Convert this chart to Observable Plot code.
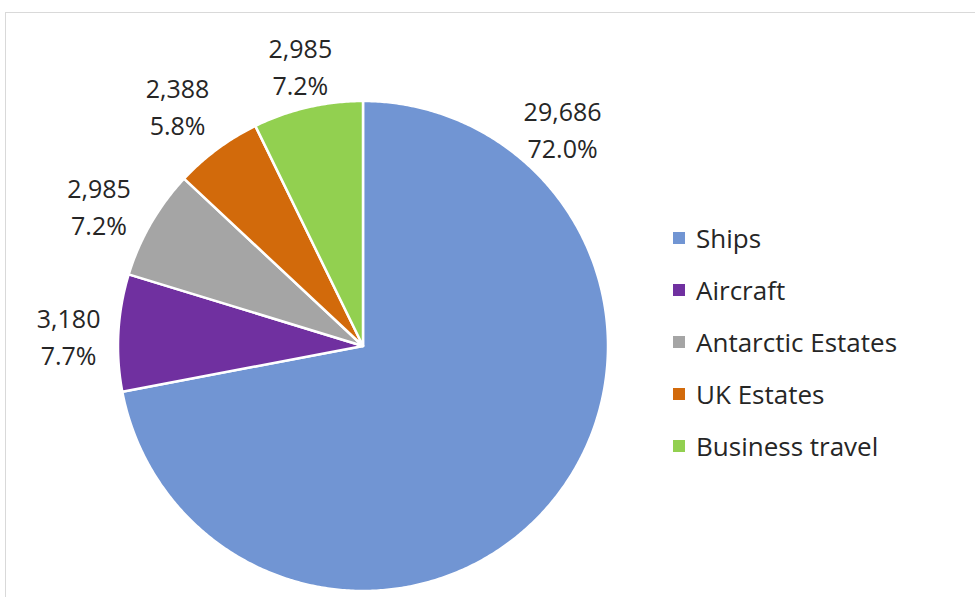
<!DOCTYPE html>
<html>
<head>
<meta charset="utf-8">
<script src="https://cdn.jsdelivr.net/npm/d3@7"></script>
<script src="https://cdn.jsdelivr.net/npm/@observablehq/plot@0.6"></script>
<style>
  html, body { margin: 0; padding: 0; background: #fff; }
  #wrap { position: relative; width: 975px; height: 597px; overflow: hidden; font-family: "Open Sans", sans-serif; }
  #frame { position: absolute; left: 5px; top: 12px; width: 1000px; height: 700px; border-top: 1px solid #d9d9d9; border-left: 1px solid #d9d9d9; }
  #chart { position: absolute; left: 0; top: 0; }
  #legend { position: absolute; left: 673px; top: 212px; }
  .item { display: flex; align-items: center; height: 52px; font-size: 26px; color: #262626; }
  .sw { width: 12px; height: 12px; margin-right: 11px; }
</style>
</head>
<body>
<div id="wrap">
  <div id="frame"></div>
  <div id="chart"></div>
  <div id="legend"></div>
</div>
<script>
const categories = ["Ships", "Aircraft", "Antarctic Estates", "UK Estates", "Business travel"];
const values = [29686, 3180, 2985, 2388, 2985];
const valueLabels = ["29,686", "3,180", "2,985", "2,388", "2,985"];
const percentLabels = ["72.0%", "7.7%", "7.2%", "5.8%", "7.2%"];
const colors = ["#7195d3", "#7030a0", "#a5a5a5", "#d26a0b", "#92d050"];

// layout
const cx = 362.5, cy = 345.5, R = 245;
// Excel best-fit label placement: angle (degrees clockwise from top) and radius (fraction of pie radius)
const labelLayout = {
  "Ships": {angle: 42.8, radius: 1.199},
  "Aircraft": {angle: 271.6, radius: 1.202},
  "Antarctic Estates": {angle: 297.6, radius: 1.216},
  "UK Estates": {angle: 322.1, radius: 1.232},
  "Business travel": {angle: 347.3, radius: 1.163}
};

const total = d3.sum(values);
let acc = 0;
const slices = categories.map((c, i) => {
  const a0 = acc / total * 360;
  acc += values[i];
  const a1 = acc / total * 360;
  return {category: c, a0, a1, value: values[i], i};
});

const rad = a => a * Math.PI / 180;
const pts = [];
for (const s of slices) {
  pts.push({category: s.category, x: 0, y: 0});
  const n = Math.max(2, Math.ceil((s.a1 - s.a0) / 0.5));
  for (let k = 0; k <= n; k++) {
    const a = s.a0 + (s.a1 - s.a0) * k / n;
    pts.push({category: s.category, x: Math.sin(rad(a)), y: Math.cos(rad(a))});
  }
}

const labels = slices.map(s => {
  const L = labelLayout[s.category];
  return {
    x: L.radius * Math.sin(rad(L.angle)),
    y: L.radius * Math.cos(rad(L.angle)),
    text: valueLabels[s.i] + "\n" + percentLabels[s.i]
  };
});

const chart = Plot.plot({
  width: 975,
  height: 597,
  margin: 0,
  x: {domain: [-1, 1], range: [cx - R, cx + R], axis: null},
  y: {domain: [-1, 1], range: [cy + R, cy - R], axis: null},
  color: {domain: categories, range: colors},
  style: {background: "transparent", fontFamily: "Open Sans, sans-serif"},
  marks: [
    Plot.line(pts, {x: "x", y: "y", z: "category", fill: "category", stroke: "white", strokeWidth: 2.5, strokeLinejoin: "round", curve: "linear-closed"}),
    Plot.text(labels, {x: "x", y: "y", text: "text", fontSize: 25, lineHeight: 1.48, dy: -3, fill: "#262626"})
  ]
});
document.getElementById("chart").appendChild(chart);

const legend = document.getElementById("legend");
categories.forEach((c, i) => {
  const row = document.createElement("div");
  row.className = "item";
  const sw = document.createElement("div");
  sw.className = "sw";
  sw.style.background = colors[i];
  const t = document.createElement("span");
  t.textContent = c;
  row.appendChild(sw);
  row.appendChild(t);
  legend.appendChild(row);
});
</script>
</body>
</html>
